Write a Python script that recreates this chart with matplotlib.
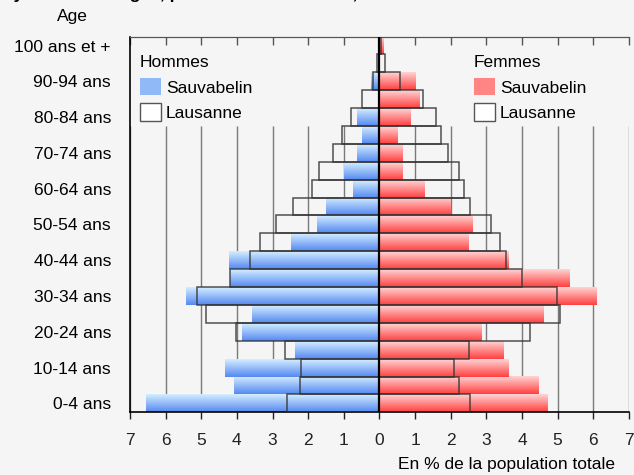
import numpy as np
import matplotlib.pyplot as plt
from matplotlib.colors import LinearSegmentedColormap
from matplotlib.patches import Patch

# classes d'age, de 0-4 ans a 100 ans et +
ages = ["0-4 ans", "5-9 ans", "10-14 ans", "15-19 ans", "20-24 ans", "25-29 ans",
        "30-34 ans", "35-39 ans", "40-44 ans", "45-49 ans", "50-54 ans", "55-59 ans",
        "60-64 ans", "65-69 ans", "70-74 ans", "75-79 ans", "80-84 ans", "85-89 ans",
        "90-94 ans", "95-99 ans", "100 ans et +"]

# en % de la population totale
hommes_sauv = [6.56, 4.07, 4.32, 2.36, 3.85, 3.59, 5.44, 4.20, 4.21, 2.47, 1.75,
               1.49, 0.74, 0.99, 0.62, 0.48, 0.62, 0.0, 0.23, 0.0, 0.0]
hommes_laus = [2.60, 2.24, 2.21, 2.66, 4.03, 4.86, 5.12, 4.18, 3.64, 3.34, 2.91,
               2.43, 1.90, 1.69, 1.29, 1.06, 0.81, 0.48, 0.17, 0.08, 0.01]
femmes_sauv = [4.73, 4.48, 3.64, 3.49, 2.88, 4.62, 6.10, 5.34, 3.62, 2.51, 2.62,
               2.02, 1.28, 0.65, 0.65, 0.51, 0.89, 1.14, 1.03, 0.0, 0.14]
femmes_laus = [2.55, 2.24, 2.10, 2.52, 4.23, 5.07, 4.99, 4.01, 3.55, 3.37, 3.12,
               2.53, 2.37, 2.24, 1.91, 1.73, 1.58, 1.23, 0.58, 0.16, 0.03]

xticks = list(range(-7, 8))
xticklabels = [str(abs(v)) for v in xticks]

plt.rcParams['font.family'] = ['Liberation Sans', 'DejaVu Sans']
plt.rcParams['font.size'] = 12.5
fs = 12.5

bg = '#f5f5f5'
fig = plt.figure(figsize=(6.34, 4.75), dpi=100, facecolor=bg)
ax = fig.add_axes([0.205, 0.132, 0.787, 0.791], facecolor=bg)

bleu = LinearSegmentedColormap.from_list('bleu', ['#5589f2', '#d4eeff'])
rouge = LinearSegmentedColormap.from_list('rouge', ['#ff4040', '#ffd4d4'])
grad = np.linspace(0, 1, 64).reshape(-1, 1)

y = np.arange(len(ages))

# barres Sauvabelin en degrade
for i in y:
    if hommes_sauv[i] > 0:
        ax.imshow(grad, cmap=bleu, origin='lower', aspect='auto', interpolation='bilinear',
                  extent=[-hommes_sauv[i], 0, i - 0.5, i + 0.5], zorder=2)
    if femmes_sauv[i] > 0:
        ax.imshow(grad, cmap=rouge, origin='lower', aspect='auto', interpolation='bilinear',
                  extent=[0, femmes_sauv[i], i - 0.5, i + 0.5], zorder=2)

# contours Lausanne
ax.barh(y, [-v for v in hommes_laus], height=1.0, fill=False, edgecolor='#333333',
        linewidth=1.1, alpha=0.85, zorder=3)
ax.barh(y, femmes_laus, height=1.0, fill=False, edgecolor='#333333',
        linewidth=1.1, alpha=0.85, zorder=3)

# grille verticale (s'arrete sous les legendes)
ax.vlines([v for v in xticks if v != 0], -0.5, 15.5, colors='#7a7a7a', linewidth=1, zorder=1)
ax.axvline(0, color='black', linewidth=1.6, zorder=5)

ax.set_xlim(-7, 7)
ax.set_ylim(-0.5, len(ages) - 0.5)

ax.spines['right'].set_visible(False)
ax.spines['top'].set_color('#555555')
ax.spines['left'].set_linewidth(1.2)
ax.spines['bottom'].set_linewidth(1.2)

ax.set_xticks(xticks, xticklabels)
ax.tick_params(axis='x', direction='out', length=5, width=1, pad=10, colors='#222222')
ax.set_yticks(y[::2], ages[::2])
ax.tick_params(axis='y', length=0, pad=13.7)

sec = ax.secondary_xaxis('top')
sec.set_xticks(xticks)
sec.tick_params(direction='in', length=6, width=1, labeltop=False, color='#555555')
sec.spines['top'].set_color('#555555')

# legendes
h_h = [Patch(facecolor='#8fb9f7', edgecolor='none'),
       Patch(facecolor='white', edgecolor='#555555', linewidth=1)]
h_f = [Patch(facecolor='#ff8585', edgecolor='none'),
       Patch(facecolor='white', edgecolor='#555555', linewidth=1)]
opts = dict(loc='upper left', frameon=False, borderpad=0, borderaxespad=0,
            handlelength=1.2, handleheight=1.15, handletextpad=0.3, labelspacing=0.45,
            title_fontsize=fs, fontsize=fs, alignment='left')
leg1 = ax.legend(h_h, ['Sauvabelin', 'Lausanne'], title='Hommes',
                 bbox_to_anchor=(0.02, 0.95), **opts)
ax.add_artist(leg1)
ax.legend(h_f, ['Sauvabelin', 'Lausanne'], title='Femmes',
          bbox_to_anchor=(0.689, 0.95), **opts)

fig.text(0.003, 1.003, "Pyramide des âges, par sexe et nationalité, Sauvabelin et Lausanne",
         fontweight='bold', va='baseline')
fig.text(72 / 634, 1 - 20.7 / 475, "Age", ha='center', va='baseline')
fig.text(615 / 634, 1 - 469 / 475, "En % de la population totale", ha='right', va='baseline')

fig.savefig('out.png', dpi=100, facecolor=bg)
